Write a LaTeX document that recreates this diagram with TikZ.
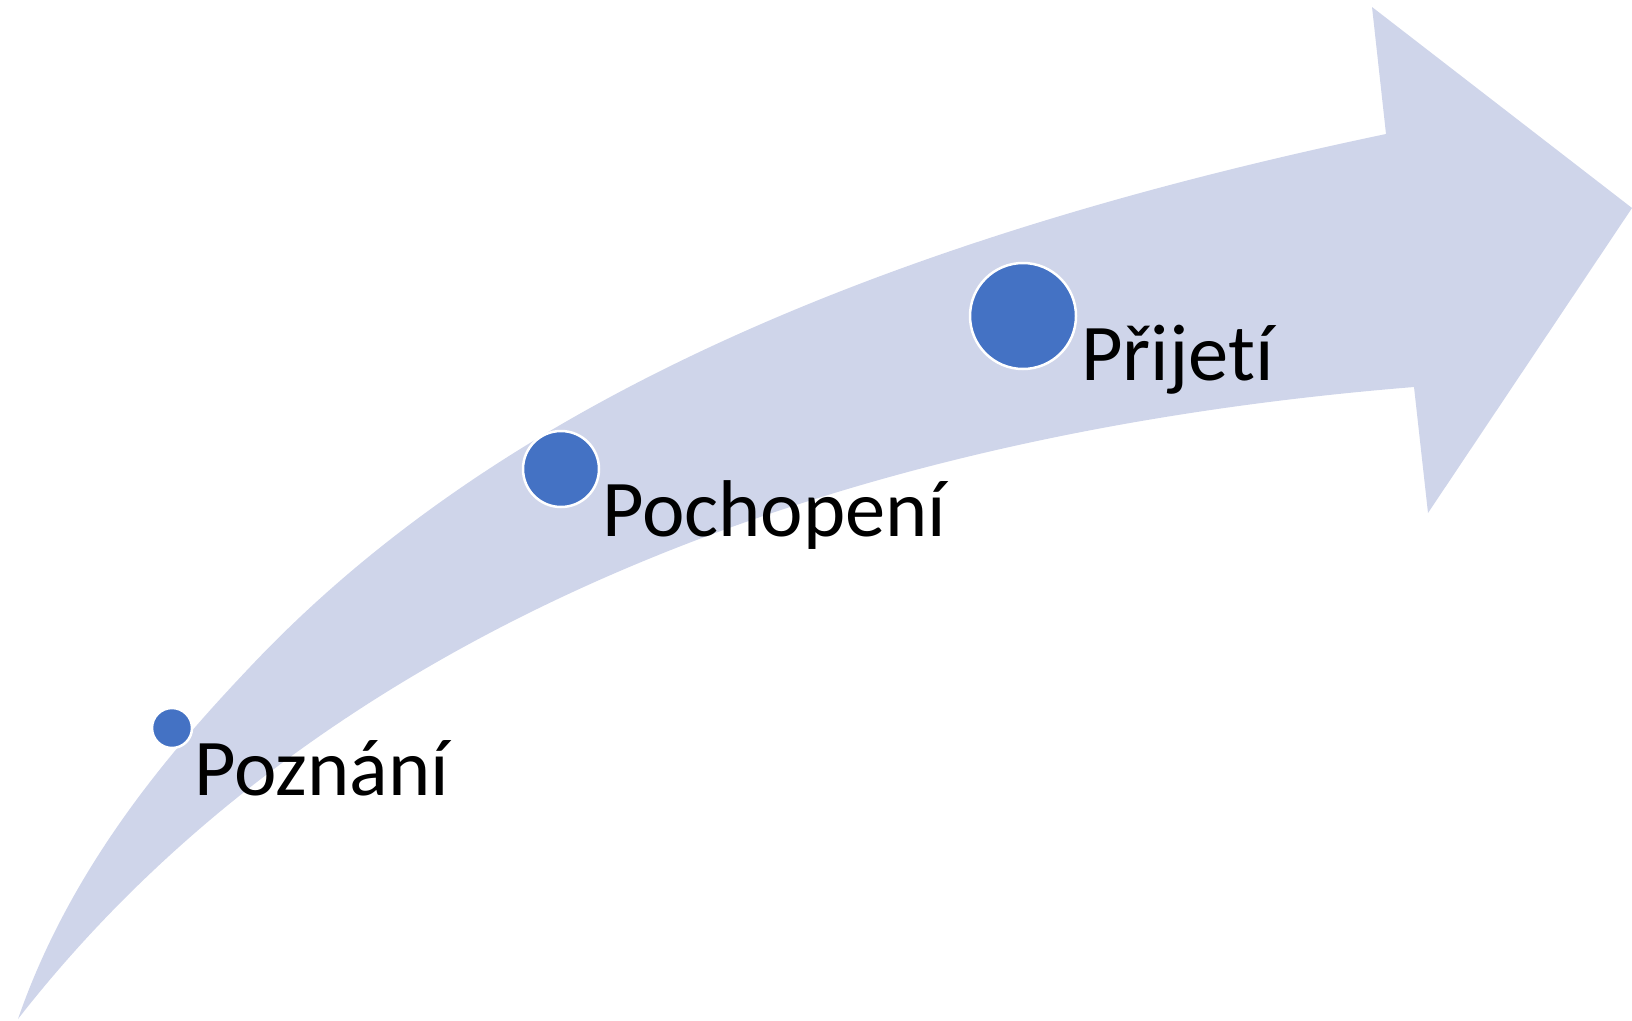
\documentclass[tikz,border=0pt]{standalone}
\usepackage{fontspec}
\setmainfont{Carlito}[Ligatures=CommonOff]
\definecolor{bandfill}{HTML}{CFD5EA}
\definecolor{dotblue}{HTML}{4472C4}
\tikzset{
  band/.style={fill=bandfill, draw=none},
  dot/.style={circle, fill=dotblue, draw=white, line width=2.5pt, inner sep=0pt},
  lbl/.style={anchor=base west, inner sep=0pt, font=\fontsize{80.5}{92}\selectfont, text=black}
}
\begin{document}
\begin{tikzpicture}[x=1pt,y=-1pt]
\useasboundingbox (0,0) rectangle (1632,1020);
% curved arrow band
\fill[band] (18,1019) .. controls (73,859.5) and (180,741) .. (250,667)
  .. controls (458.5,446) and (794,258) .. (1386,134)
  -- (1372,7) -- (1632,208) -- (1428,513) -- (1414,387)
  .. controls (760,440) and (290,670) .. (18,1019) -- cycle;
% dots
\node[dot, minimum size=40pt] (d1) at (172,728) {};
\node[dot, minimum size=76pt] (d2) at (561,469) {};
\node[dot, minimum size=106pt] (d3) at (1023,316) {};
% labels
\node[lbl] (t1) at (194,795) {Poznání};
\node[lbl] (t2) at (602,536) {Pochopení};
\node[lbl] (t3) at (1081,380) {Přijetí};
\end{tikzpicture}
\end{document}
